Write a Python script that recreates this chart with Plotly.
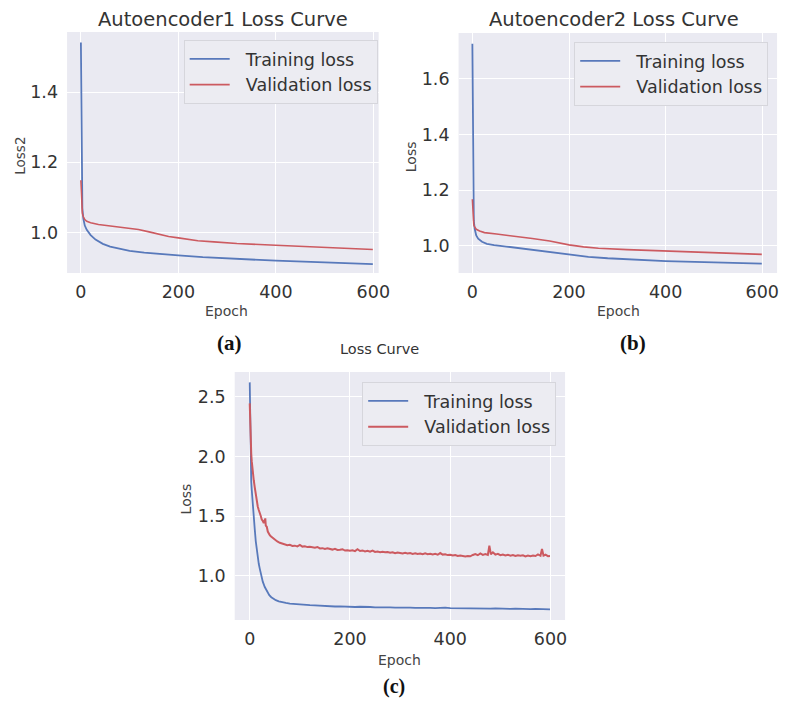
import plotly.graph_objects as go

W, H = 793, 702

# ---------------- data ----------------
# Panel (a) Autoencoder1
a_train_ep = [0, 1, 2, 3, 5, 8, 12, 20, 30, 45, 60, 80, 100, 130, 160, 200, 250, 300, 400, 500, 599]
a_train = [1.541, 1.30, 1.12, 1.07, 1.040, 1.020, 1.008, 0.993, 0.980, 0.968, 0.960, 0.953, 0.948,
           0.943, 0.939, 0.935, 0.930, 0.926, 0.920, 0.915, 0.910]
a_val_ep = [0, 1, 2, 3, 5, 8, 12, 20, 36, 60, 90, 118, 140, 160, 180, 200, 240, 273, 320, 400, 500, 599]
a_val = [1.149, 1.09, 1.065, 1.055, 1.045, 1.037, 1.032, 1.028, 1.023, 1.019, 1.015, 1.009, 1.002,
         0.995, 0.989, 0.985, 0.977, 0.9735, 0.969, 0.964, 0.958, 0.952]

# Panel (b) Autoencoder2
b_train_ep = [0, 1, 2, 3, 5, 8, 12, 20, 30, 45, 70, 100, 130, 160, 200, 240, 280, 340, 400, 500, 599]
b_train = [1.726, 1.40, 1.15, 1.09, 1.060, 1.038, 1.026, 1.015, 1.008, 1.003, 0.998, 0.991, 0.985,
           0.977, 0.968, 0.961, 0.956, 0.951, 0.946, 0.941, 0.9365]
b_val_ep = [0, 1, 2, 3, 5, 8, 15, 25, 50, 90, 124, 160, 200, 230, 261, 320, 400, 500, 599]
b_val = [1.168, 1.11, 1.085, 1.075, 1.068, 1.060, 1.054, 1.048, 1.043, 1.035, 1.027, 1.018, 1.004,
         0.997, 0.992, 0.987, 0.982, 0.976, 0.970]

# Panel (c) Loss Curve
c_train_ep = [0, 1, 2, 3, 4, 5, 6, 7, 8, 10, 12, 14, 16, 18, 20, 23, 26, 30, 33, 36, 39, 43, 47, 52,
              58, 65, 72, 80, 90, 100, 110, 120, 130, 140, 150, 160, 170, 180, 190, 200, 210, 220,
              230, 240, 250, 260, 270, 280, 290, 300, 310, 320, 330, 340, 350, 360, 370, 380, 390,
              400, 410, 420, 430, 440, 450, 460, 470, 480, 490, 500, 510, 520, 530, 540, 550, 560,
              570, 580, 590, 599]
c_train = [2.62, 2.07, 1.90, 1.79, 1.72, 1.65, 1.59, 1.54, 1.49, 1.39, 1.29, 1.21, 1.15, 1.10, 1.06,
           1.00, 0.95, 0.905, 0.88, 0.855, 0.837, 0.82, 0.806, 0.795, 0.785, 0.777, 0.772, 0.767,
           0.762, 0.758, 0.757, 0.753, 0.752, 0.748, 0.749, 0.745, 0.742, 0.744, 0.740, 0.741,
           0.738, 0.740, 0.736, 0.738, 0.735, 0.737, 0.733, 0.735, 0.732, 0.734, 0.731, 0.733,
           0.730, 0.732, 0.729, 0.731, 0.728, 0.730, 0.733, 0.728, 0.727, 0.729, 0.726, 0.730,
           0.727, 0.725, 0.727, 0.724, 0.726, 0.723, 0.725, 0.722, 0.724, 0.721, 0.723, 0.720,
           0.722, 0.719, 0.720, 0.718]
c_val_ep = [0, 1, 2, 3, 4, 5, 6, 7, 8, 10, 12, 14, 16, 18, 20, 22, 24, 26, 28, 30, 31, 32, 34, 36,
            38, 40, 42, 45, 50, 55, 60, 65, 70, 75, 80, 85, 90, 95, 100, 105, 110, 115, 120, 125,
            130, 135, 140, 145, 150, 155, 160, 165, 170, 175, 180, 185, 190, 195, 200, 205, 210,
            215, 220, 225, 230, 235, 240, 245, 250, 255, 260, 265, 270, 275, 280, 285, 290, 295,
            300, 305, 310, 315, 320, 325, 330, 335, 340, 345, 350, 355, 360, 365, 370, 375, 380,
            385, 390, 395, 400, 405, 410, 415, 420, 425, 430, 435, 440, 445, 450, 455, 460, 465,
            470, 475, 478, 481, 485, 490, 495, 500, 505, 510, 515, 520, 525, 530, 535, 540, 545,
            550, 555, 560, 565, 570, 575, 580, 583, 586, 590, 595, 599]
c_val = [2.444, 2.25, 2.10, 2.02, 1.96, 1.91, 1.87, 1.83, 1.80, 1.74, 1.67, 1.61, 1.58, 1.55, 1.53,
         1.50, 1.47, 1.46, 1.44, 1.46, 1.48, 1.42, 1.41, 1.37, 1.35, 1.34, 1.33, 1.32, 1.30, 1.287,
         1.276, 1.268, 1.264, 1.255, 1.259, 1.250, 1.252, 1.246, 1.258, 1.244, 1.247, 1.240,
         1.243, 1.236, 1.235, 1.241, 1.229, 1.231, 1.224, 1.230, 1.222, 1.219, 1.225, 1.216,
         1.218, 1.222, 1.211, 1.214, 1.209, 1.213, 1.206, 1.222, 1.207, 1.212, 1.204, 1.209,
         1.201, 1.211, 1.199, 1.203, 1.197, 1.201, 1.196, 1.199, 1.192, 1.197, 1.189, 1.194,
         1.191, 1.186, 1.192, 1.187, 1.190, 1.183, 1.188, 1.182, 1.186, 1.180, 1.188, 1.181,
         1.184, 1.178, 1.183, 1.176, 1.190, 1.177, 1.180, 1.173, 1.176, 1.169, 1.174, 1.166,
         1.169, 1.163, 1.161, 1.166, 1.163, 1.174, 1.182, 1.172, 1.187, 1.175, 1.181, 1.174,
         1.252, 1.180, 1.196, 1.177, 1.183, 1.172, 1.178, 1.170, 1.176, 1.168, 1.174, 1.166,
         1.172, 1.167, 1.171, 1.162, 1.169, 1.164, 1.170, 1.165, 1.178, 1.167, 1.225, 1.169,
         1.176, 1.164, 1.165]

x_ticks = [0, 200, 400, 600]
a_yticks = [1.0, 1.2, 1.4]
b_yticks = [1.0, 1.2, 1.4, 1.6]
c_yticks = [1.0, 1.5, 2.0, 2.5]

# ---------------- style ----------------
BG = "#eaeaf2"
BLUE = "#5879bb"
RED = "#cc5a60"
TXT = "#333333"
FONT = "DejaVu Sans"
PAD = "\u00a0\u00a0"


def px_x(p):
    return p / W


def px_y(p):
    return (H - p) / H


fig = go.Figure()

panels = [
    ("x", "y", "legend", a_train_ep, a_train, a_val_ep, a_val, 1.6),
    ("x2", "y2", "legend2", b_train_ep, b_train, b_val_ep, b_val, 1.6),
    ("x3", "y3", "legend3", c_train_ep, c_train, c_val_ep, c_val, 2.0),
]
for xa, ya, lg, tx, ty, vx, vy, vw in panels:
    fig.add_trace(go.Scatter(x=tx, y=ty, mode="lines", name=PAD + "Training loss",
                             line=dict(color=BLUE, width=1.8), xaxis=xa, yaxis=ya, legend=lg))
    fig.add_trace(go.Scatter(x=vx, y=vy, mode="lines", name=PAD + "Validation loss",
                             line=dict(color=RED, width=vw), xaxis=xa, yaxis=ya, legend=lg))

axis_common = dict(showgrid=True, gridcolor="white", gridwidth=1.3, zeroline=False,
                   showline=False, ticks="", tickfont=dict(family=FONT, size=17.5, color=TXT))

fig.update_layout(
    width=W, height=H, margin=dict(l=0, r=0, t=0, b=0),
    paper_bgcolor="white", plot_bgcolor=BG,
    xaxis=dict(domain=[px_x(68), px_x(384)], range=[-28.4, 611], tickvals=x_ticks,
               anchor="y", ticklabelstandoff=6, **axis_common),
    yaxis=dict(domain=[px_y(273), px_y(32)], range=[0.885, 1.571], tickvals=a_yticks,
               tickformat=".1f", anchor="x", ticklabelstandoff=8, **axis_common),
    xaxis2=dict(domain=[px_x(465), px_x(788)], range=[-28.6, 630.6], tickvals=x_ticks,
                anchor="y2", ticklabelstandoff=6, **axis_common),
    yaxis2=dict(domain=[px_y(273), px_y(33)], range=[0.903, 1.765], tickvals=b_yticks,
                tickformat=".1f", anchor="x2", ticklabelstandoff=8, **axis_common),
    xaxis3=dict(domain=[px_x(238), px_x(573)], range=[-30, 629], tickvals=x_ticks,
                anchor="y3", ticklabelstandoff=6, **axis_common),
    yaxis3=dict(domain=[px_y(620), px_y(372)], range=[0.629, 2.707], tickvals=c_yticks,
                tickformat=".1f", anchor="x3", ticklabelstandoff=8, **axis_common),
)

leg_common = dict(bgcolor="#ececf2", bordercolor="#d6d6dc", borderwidth=1,
                  font=dict(family=FONT, size=17.5, color=TXT), itemwidth=40,
                  xanchor="right", yanchor="top", tracegroupgap=0)
fig.update_layout(
    legend=dict(x=px_x(383), y=px_y(40), **leg_common),
    legend2=dict(x=px_x(779), y=px_y(42), **leg_common),
    legend3=dict(x=px_x(564), y=px_y(382), **leg_common),
)

ann = []


def text(x, y, s, size, color=TXT, family=FONT, angle=0):
    ann.append(dict(x=px_x(x), y=px_y(y), xref="paper", yref="paper", text=s,
                    showarrow=False, xanchor="center", yanchor="middle", textangle=angle,
                    font=dict(family=family, size=size, color=color)))


text(226, 19, "Autoencoder1 Loss Curve", 19.5)
text(623, 20, "Autoencoder2 Loss Curve", 19.5)
text(385, 349, "Loss Curve", 14.5)
text(230, 311, "Epoch", 14, color="#444444")
text(627, 311, "Epoch", 14, color="#444444")
text(405, 660, "Epoch", 14, color="#444444")
text(20, 156, "Loss2", 13.5, color="#444444", angle=-90)
text(417, 157, "Loss", 14, color="#444444", angle=-90)
text(188.5, 498.5, "Loss", 14, color="#444444", angle=-90)
text(233, 343, "<b>(a)</b>", 21, color="#111111", family="Liberation Serif")
text(642, 343, "<b>(b)</b>", 21, color="#111111", family="Liberation Serif")
text(400, 686, "<b>(c)</b>", 20, color="#111111", family="Liberation Serif")
fig.update_layout(annotations=ann)

fig.write_html("out.html", config={"displayModeBar": False},
               post_script="document.body.style.margin='0';document.body.style.overflow='hidden';")
